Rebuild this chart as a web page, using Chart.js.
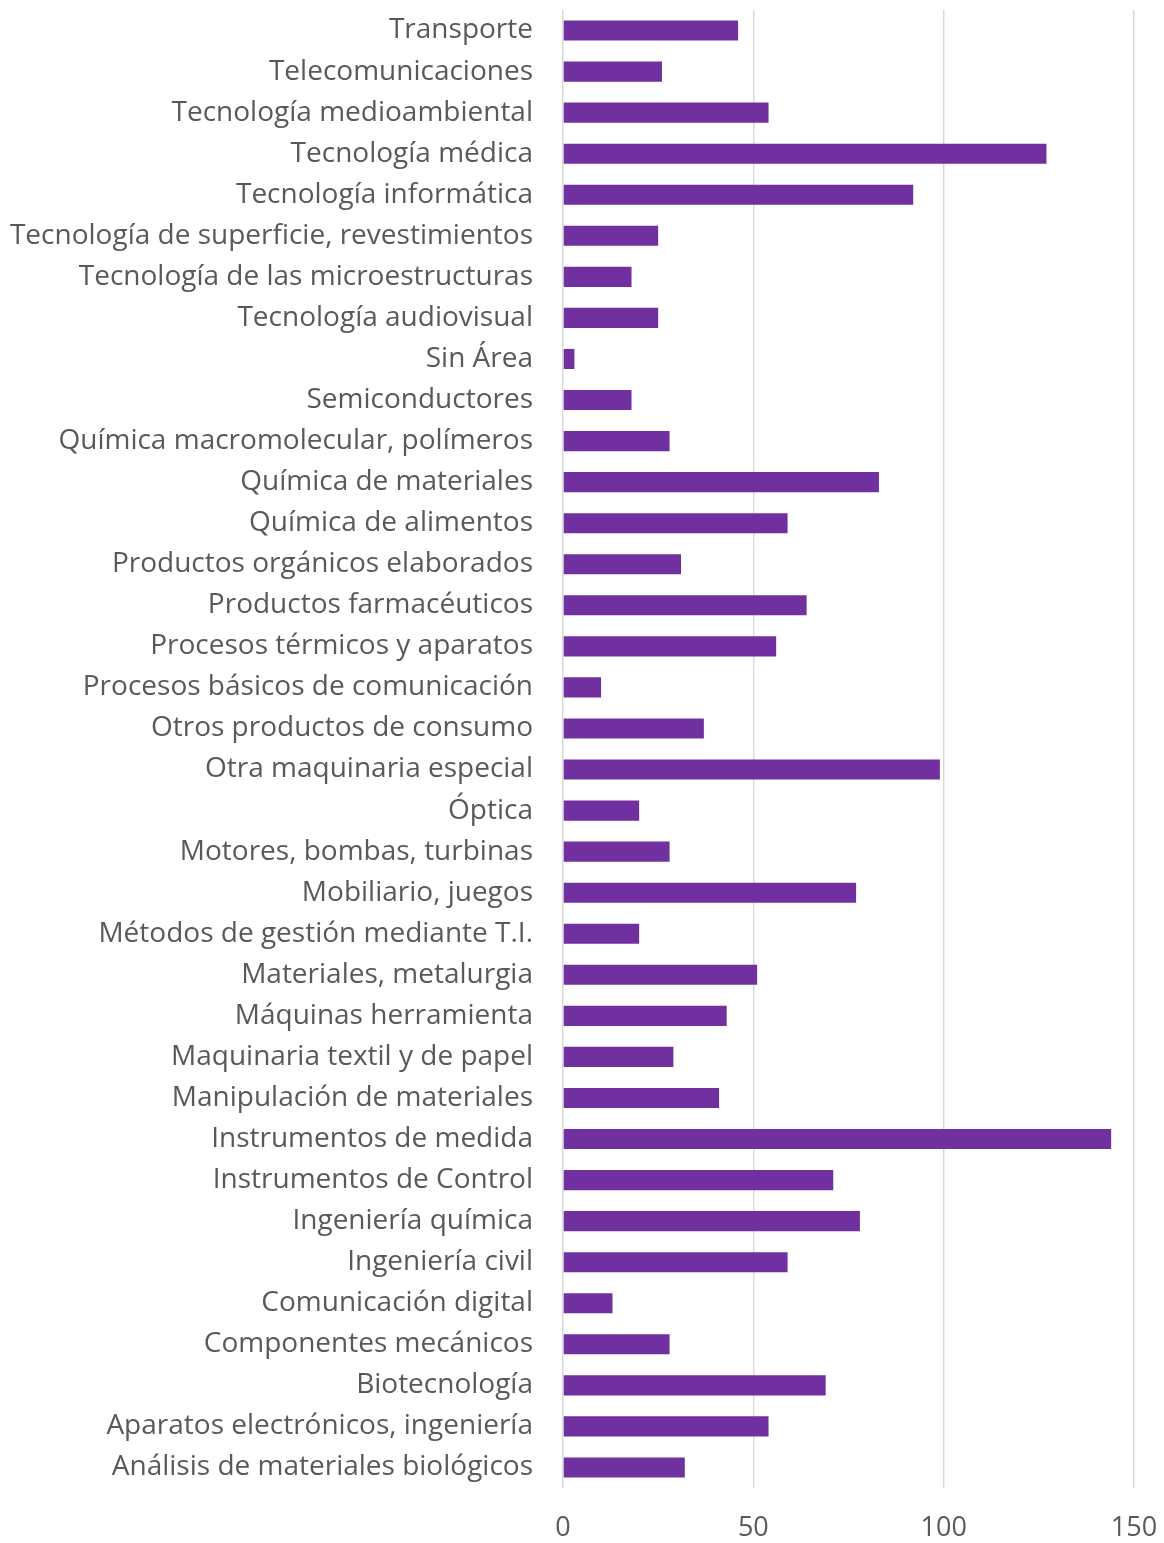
<!DOCTYPE html>
<html lang="es">
<head>
    <meta charset="UTF-8">
    <title>Áreas tecnológicas</title>
    <style>
        html, body {
            margin: 0;
            padding: 0;
            background: #fff;
        }
        #wrap {
            width: 1164px;
            height: 1543px;
        }
    </style>
</head>
<body>
    <div id="wrap">
        <canvas id="chart" width="1164" height="1543"></canvas>
    </div>
    <script src="https://cdn.jsdelivr.net/npm/chart.js"></script>
    <script>
        // categorias de arriba a abajo
        const areas = [
            'Transporte',
            'Telecomunicaciones',
            'Tecnología medioambiental',
            'Tecnología médica',
            'Tecnología informática',
            'Tecnología de superficie, revestimientos',
            'Tecnología de las microestructuras',
            'Tecnología audiovisual',
            'Sin Área',
            'Semiconductores',
            'Química macromolecular, polímeros',
            'Química de materiales',
            'Química de alimentos',
            'Productos orgánicos elaborados',
            'Productos farmacéuticos',
            'Procesos térmicos y aparatos',
            'Procesos básicos de comunicación',
            'Otros productos de consumo',
            'Otra maquinaria especial',
            'Óptica',
            'Motores, bombas, turbinas',
            'Mobiliario, juegos',
            'Métodos de gestión mediante T.I.',
            'Materiales, metalurgia',
            'Máquinas herramienta',
            'Maquinaria textil y de papel',
            'Manipulación de materiales',
            'Instrumentos de medida',
            'Instrumentos de Control',
            'Ingeniería química',
            'Ingeniería civil',
            'Comunicación digital',
            'Componentes mecánicos',
            'Biotecnología',
            'Aparatos electrónicos, ingeniería',
            'Análisis de materiales biológicos'
        ];

        const totals = [
            46, 26, 54, 127, 92, 25, 18, 25, 3, 18,
            28, 83, 59, 31, 64, 56, 10, 37, 99, 20,
            28, 77, 20, 51, 43, 29, 41, 144, 71, 78,
            59, 13, 28, 69, 54, 32
        ];

        const xTicks = [0, 50, 100, 150];

        const fontFamily = '"Open Sans", sans-serif';
        const textColor = '#595959';

        new Chart(document.getElementById('chart').getContext('2d'), {
            type: 'bar',
            data: {
                labels: areas,
                datasets: [{
                    data: totals,
                    backgroundColor: '#7030a0',
                    borderWidth: 0,
                    barPercentage: 0.49,
                    categoryPercentage: 1
                }]
            },
            options: {
                indexAxis: 'y',
                responsive: false,
                animation: false,
                layout: {
                    padding: { top: 10, right: 30, bottom: 0, left: 0 }
                },
                plugins: {
                    legend: { display: false },
                    tooltip: { enabled: false }
                },
                scales: {
                    x: {
                        min: 0,
                        max: 150,
                        afterBuildTicks: scale => {
                            scale.ticks = xTicks.map(v => ({ value: v }));
                        },
                        grid: {
                            color: '#d9d9d9',
                            lineWidth: 1.5,
                            drawTicks: false
                        },
                        border: { display: false },
                        ticks: {
                            color: textColor,
                            padding: 24,
                            font: { family: fontFamily, size: 27 }
                        },
                        afterFit: scale => {
                            scale.height = 55;
                            scale.paddingLeft = 0;
                            scale.paddingRight = 0;
                        }
                    },
                    y: {
                        grid: { display: false, drawTicks: false },
                        border: { display: false },
                        ticks: {
                            color: textColor,
                            padding: 30,
                            autoSkip: false,
                            font: { family: fontFamily, size: 28 }
                        },
                        afterFit: scale => {
                            scale.width = 563;
                            scale.paddingTop = 0;
                            scale.paddingBottom = 0;
                        }
                    }
                }
            }
        });
    </script>
</body>
</html>
